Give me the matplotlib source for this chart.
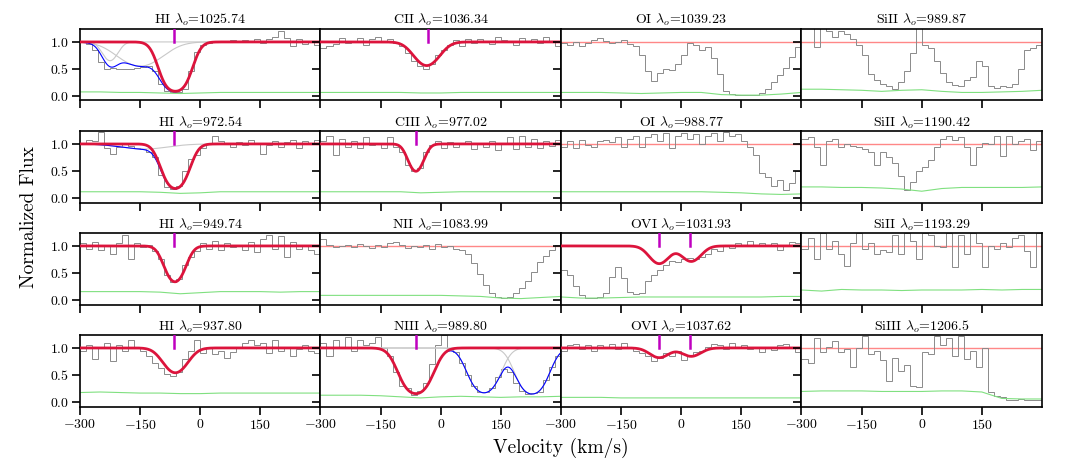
import numpy as np
import matplotlib.pyplot as plt

plt.rcParams['font.family'] = 'serif'
plt.rcParams['font.serif'] = ['cmr10']
plt.rcParams['mathtext.fontset'] = 'cm'
plt.rcParams['axes.formatter.use_mathtext'] = True
plt.rcParams['axes.linewidth'] = 1.2

# ---- data ----
titles = [
    r"HI $\lambda_o$=1025.74", r"CII $\lambda_o$=1036.34", r"OI $\lambda_o$=1039.23", r"SiII $\lambda_o$=989.87",
    r"HI $\lambda_o$=972.54", r"CIII $\lambda_o$=977.02", r"OI $\lambda_o$=988.77", r"SiII $\lambda_o$=1190.42",
    r"HI $\lambda_o$=949.74", r"NII $\lambda_o$=1083.99", r"OVI $\lambda_o$=1031.93", r"SiII $\lambda_o$=1193.29",
    r"HI $\lambda_o$=937.80", r"NIII $\lambda_o$=989.80", r"OVI $\lambda_o$=1037.62", r"SiIII $\lambda_o$=1206.5",
]

# flux in 15 km/s bins, -300 .. 300
flux_hi1025 = [1.02, 0.97, 0.85, 0.62, 0.50, 0.52, 0.50, 0.50, 0.49, 0.51, 0.54, 0.55, 0.45, 0.22, 0.08, 0.06, 0.07, 0.12, 0.45, 0.82,
               0.95, 0.98, 1.02, 0.99, 1.01, 1.03, 0.99, 1.04, 1.02, 1.06, 0.98, 1.05, 1.10, 1.20, 1.08, 0.92, 1.05, 0.96, 1.02, 0.95]
flux_cii1036 = [0.88, 0.92, 0.97, 1.07, 0.98, 1.02, 1.08, 0.95, 1.05, 1.10, 1.00, 1.05, 0.98, 0.92, 0.80, 0.65, 0.55, 0.50, 0.58, 0.75,
                0.85, 0.95, 1.03, 0.93, 1.05, 0.98, 1.05, 1.02, 0.97, 1.10, 1.03, 1.00, 0.95, 1.08, 1.02, 1.05, 0.98, 1.10, 1.00, 0.93]
flux_oi1039 = [0.98, 0.95, 1.00, 0.93, 0.98, 1.03, 1.07, 1.02, 0.98, 1.00, 1.04, 0.97, 0.92, 0.75, 0.45, 0.28, 0.42, 0.50, 0.48, 0.58,
               0.75, 0.98, 0.95, 0.85, 0.90, 0.70, 0.40, 0.08, 0.03, 0.02, 0.02, 0.01, 0.02, 0.05, 0.12, 0.25, 0.38, 0.52, 0.72, 0.90]
flux_sii989 = [1.30, 1.30, 0.90, 1.30, 1.20, 1.10, 1.20, 1.15, 1.05, 0.95, 0.75, 0.40, 0.30, 0.22, 0.18, 0.12, 0.25, 0.45, 0.80, 1.30,
               0.95, 0.88, 0.65, 0.42, 0.25, 0.20, 0.18, 0.30, 0.35, 0.65, 0.55, 0.18, 0.15, 0.18, 0.16, 0.22, 0.50, 0.85, 0.88, 0.95]
flux_hi972 = [1.02, 1.08, 1.05, 1.22, 0.92, 0.82, 0.95, 1.02, 0.97, 0.93, 0.90, 0.85, 0.75, 0.42, 0.20, 0.16, 0.22, 0.50, 0.72, 0.80,
              0.93, 1.00, 1.15, 1.05, 1.00, 0.95, 1.03, 0.98, 1.07, 1.00, 0.82, 0.98, 1.05, 0.95, 1.03, 1.08, 0.92, 1.05, 1.00, 1.08]
flux_ciii977 = [1.05, 1.15, 0.80, 1.10, 0.95, 1.05, 0.92, 1.12, 0.98, 1.00, 0.93, 1.12, 0.95, 0.85, 0.60, 0.50, 0.55, 0.85, 0.98, 1.05,
                0.92, 1.03, 0.95, 1.00, 1.05, 0.90, 1.02, 0.95, 1.05, 0.88, 1.00, 1.12, 0.90, 1.15, 0.95, 1.10, 0.92, 1.05, 0.97, 1.08]
flux_oi988 = [0.95, 1.05, 0.92, 1.08, 0.98, 0.95, 1.05, 1.08, 1.03, 1.12, 0.95, 1.10, 1.15, 0.95, 1.12, 1.18, 1.05, 1.20, 0.92, 1.15,
              1.20, 1.10, 1.18, 1.00, 1.15, 1.20, 1.05, 1.22, 1.15, 1.18, 1.05, 0.95, 0.80, 0.45, 0.38, 0.22, 0.32, 0.15, 0.28, 0.50]
flux_sii1190 = [1.10, 1.12, 0.95, 0.60, 1.05, 1.10, 0.95, 1.00, 0.97, 0.95, 0.90, 0.85, 0.60, 0.85, 0.75, 0.65, 0.40, 0.15, 0.30, 0.50,
                0.58, 0.70, 0.95, 1.10, 1.15, 1.08, 1.12, 0.95, 0.60, 0.95, 1.02, 1.00, 1.15, 0.78, 1.15, 1.00, 1.05, 1.10, 0.88, 1.05]
flux_hi949 = [1.05, 0.95, 1.08, 0.92, 1.00, 0.85, 1.05, 1.20, 0.75, 1.05, 0.98, 1.02, 0.90, 0.75, 0.45, 0.33, 0.38, 0.65, 0.80, 0.90,
              1.05, 0.95, 1.10, 0.92, 1.05, 0.98, 1.00, 0.92, 1.08, 0.88, 1.12, 1.20, 0.95, 1.18, 0.80, 1.08, 0.95, 1.00, 0.93, 0.85]
flux_nii1083 = [1.12, 1.02, 0.98, 1.00, 1.02, 0.98, 1.03, 1.00, 0.97, 1.02, 0.98, 1.05, 1.08, 1.02, 0.97, 1.00, 0.98, 1.02, 0.95, 1.03,
                0.98, 1.00, 0.95, 0.93, 0.85, 0.68, 0.48, 0.28, 0.12, 0.05, 0.04, 0.05, 0.12, 0.22, 0.35, 0.52, 0.70, 0.82, 0.92, 1.02]
flux_ovi1031 = [0.55, 0.45, 0.25, 0.08, 0.03, 0.04, 0.05, 0.12, 0.42, 0.60, 0.40, 0.15, 0.10, 0.12, 0.35, 0.45, 0.55, 0.65, 0.72, 0.70,
                0.76, 0.78, 0.75, 0.80, 0.85, 0.95, 0.90, 1.00, 0.97, 1.05, 1.02, 1.10, 1.00, 1.05, 1.02, 1.05, 0.93, 1.00, 1.08, 1.05]
flux_sii1193 = [0.95, 1.15, 0.75, 1.25, 0.95, 1.10, 0.85, 0.62, 1.05, 1.25, 0.95, 1.05, 0.85, 0.92, 0.88, 1.20, 0.85, 1.25, 1.10, 0.75,
                1.25, 1.20, 1.00, 0.98, 1.25, 0.60, 1.20, 0.85, 1.25, 1.05, 0.60, 1.00, 0.95, 1.05, 0.98, 1.15, 1.20, 0.90, 0.60, 1.25]
flux_hi937 = [0.95, 1.05, 0.80, 1.00, 1.10, 0.75, 1.05, 0.95, 1.15, 1.00, 0.95, 0.85, 0.72, 0.62, 0.52, 0.48, 0.55, 0.80, 0.95, 1.15,
              0.90, 1.00, 0.88, 0.95, 0.82, 0.92, 1.00, 1.10, 1.15, 1.05, 1.10, 0.90, 1.15, 0.95, 1.02, 0.85, 0.98, 1.05, 0.95, 0.90]
flux_niii989 = [1.10, 0.85, 1.15, 1.00, 1.20, 0.95, 1.15, 1.05, 1.10, 1.20, 1.00, 0.85, 0.55, 0.30, 0.25, 0.12, 0.20, 0.35, 0.70, 1.05,
                1.25, 1.00, 0.92, 0.72, 0.50, 0.30, 0.18, 0.18, 0.25, 0.45, 0.60, 0.55, 0.35, 0.20, 0.14, 0.16, 0.18, 0.40, 0.65, 0.85]
flux_ovi1037 = [0.95, 1.05, 1.08, 0.98, 1.05, 0.95, 1.05, 1.00, 1.08, 0.98, 1.10, 1.00, 0.95, 0.90, 0.85, 0.75, 0.82, 0.90, 0.85, 0.95,
                0.78, 0.85, 0.92, 0.95, 1.02, 1.08, 1.05, 0.98, 1.10, 1.02, 1.05, 0.98, 1.00, 0.93, 1.02, 0.97, 1.05, 1.08, 1.00, 0.92]
flux_siiii1206 = [0.80, 0.72, 1.18, 0.92, 1.02, 1.12, 0.92, 0.98, 0.65, 1.00, 1.22, 0.88, 0.95, 0.78, 0.38, 0.82, 0.58, 0.68, 0.30, 0.28,
                  0.92, 0.88, 1.22, 1.05, 1.18, 0.85, 1.22, 0.80, 0.95, 0.65, 1.00, 0.18, 0.10, 0.08, 0.04, 0.03, 0.05, 0.03, 0.04, 0.04]

# error spectrum sampled every 50 km/s, -300 .. 300
err_vel = [-300, -250, -200, -150, -100, -50, 0, 50, 100, 150, 200, 250, 300]
err_hi1025 = [0.07, 0.07, 0.06, 0.06, 0.05, 0.04, 0.05, 0.06, 0.06, 0.06, 0.06, 0.06, 0.06]
err_cii1036 = [0.06, 0.06, 0.06, 0.06, 0.06, 0.05, 0.05, 0.06, 0.06, 0.06, 0.06, 0.06, 0.06]
err_oi1039 = [0.06, 0.06, 0.06, 0.05, 0.04, 0.05, 0.06, 0.06, 0.02, 0.01, 0.01, 0.03, 0.06]
err_sii989 = [0.12, 0.12, 0.11, 0.10, 0.08, 0.10, 0.11, 0.08, 0.06, 0.06, 0.07, 0.08, 0.10]
err_hi972 = [0.11, 0.11, 0.11, 0.11, 0.10, 0.08, 0.09, 0.11, 0.11, 0.11, 0.11, 0.11, 0.11]
err_ciii977 = [0.11, 0.11, 0.11, 0.11, 0.11, 0.09, 0.10, 0.11, 0.11, 0.11, 0.11, 0.11, 0.11]
err_oi988 = [0.11, 0.11, 0.11, 0.11, 0.11, 0.11, 0.11, 0.11, 0.10, 0.09, 0.07, 0.06, 0.07]
err_sii1190 = [0.20, 0.20, 0.19, 0.19, 0.18, 0.16, 0.12, 0.17, 0.19, 0.19, 0.19, 0.19, 0.20]
err_hi949 = [0.15, 0.15, 0.15, 0.15, 0.14, 0.11, 0.13, 0.15, 0.15, 0.15, 0.14, 0.15, 0.15]
err_nii1083 = [0.08, 0.08, 0.08, 0.08, 0.08, 0.08, 0.08, 0.07, 0.06, 0.03, 0.02, 0.04, 0.06]
err_ovi1031 = [0.05, 0.03, 0.03, 0.04, 0.05, 0.05, 0.05, 0.05, 0.05, 0.05, 0.05, 0.06, 0.06]
err_sii1193 = [0.18, 0.16, 0.19, 0.18, 0.18, 0.17, 0.18, 0.18, 0.18, 0.19, 0.18, 0.19, 0.19]
err_hi937 = [0.17, 0.18, 0.17, 0.16, 0.16, 0.15, 0.15, 0.16, 0.16, 0.16, 0.16, 0.16, 0.16]
err_niii989 = [0.12, 0.12, 0.12, 0.11, 0.09, 0.07, 0.09, 0.10, 0.09, 0.08, 0.09, 0.09, 0.10]
err_ovi1037 = [0.08, 0.08, 0.08, 0.07, 0.07, 0.07, 0.07, 0.07, 0.07, 0.07, 0.07, 0.07, 0.07]
err_siiii1206 = [0.19, 0.20, 0.20, 0.20, 0.19, 0.19, 0.19, 0.20, 0.20, 0.18, 0.06, 0.05, 0.05]

# fitted components (velocity km/s, b km/s, central optical depth)
fit_hi1025 = [(-62, 37, 2.5)]
other_hi1025 = [(-225, 25, 0.43), (-150, 70, 0.6)]
fit_cii1036 = [(-35, 40, 0.58)]
fit_hi972 = [(-62, 35, 1.77)]
other_hi972 = [(-140, 80, 0.1)]
fit_ciii977 = [(-62, 24, 0.71)]
fit_hi949 = [(-63, 30, 1.1)]
fit_ovi1031 = [(-55, 32, 0.40), (25, 32, 0.34)]
fit_hi937 = [(-62, 38, 0.62)]
fit_niii989 = [(-62, 42, 1.9)]
other_niii989 = [(108, 41, 1.8), (228, 41, 1.95)]
fit_ovi1037 = [(-55, 32, 0.20), (25, 32, 0.17)]

marks_one = [-65]
marks_two = [-56, 22]

panels = [
    (flux_hi1025, err_hi1025, fit_hi1025, other_hi1025, marks_one),
    (flux_cii1036, err_cii1036, fit_cii1036, [], [-33]),
    (flux_oi1039, err_oi1039, None, [], []),
    (flux_sii989, err_sii989, None, [], []),
    (flux_hi972, err_hi972, fit_hi972, other_hi972, marks_one),
    (flux_ciii977, err_ciii977, fit_ciii977, [], [-62]),
    (flux_oi988, err_oi988, None, [], []),
    (flux_sii1190, err_sii1190, None, [], []),
    (flux_hi949, err_hi949, fit_hi949, [], marks_one),
    (flux_nii1083, err_nii1083, None, [], []),
    (flux_ovi1031, err_ovi1031, fit_ovi1031, [], marks_two),
    (flux_sii1193, err_sii1193, None, [], []),
    (flux_hi937, err_hi937, fit_hi937, [], marks_one),
    (flux_niii989, err_niii989, fit_niii989, other_niii989, [-62]),
    (flux_ovi1037, err_ovi1037, fit_ovi1037, [], marks_two),
    (flux_siiii1206, err_siiii1206, None, [], []),
]

edges = np.arange(-300, 301, 15)
vgrid = np.linspace(-300, 300, 601)


def profile(comps):
    tau = np.zeros_like(vgrid)
    for v0, b, t0 in comps:
        tau += t0 * np.exp(-((vgrid - v0) / b) ** 2)
    return np.exp(-tau)


fig = plt.figure(figsize=(10.65, 4.75), dpi=100)
gs = fig.add_gridspec(4, 4, left=0.0751, right=0.9784, bottom=0.1442, top=0.94,
                      wspace=0, hspace=0.4167)

for i, (flux, err, fit, other, marks) in enumerate(panels):
    r, c = divmod(i, 4)
    ax = fig.add_subplot(gs[r, c])

    ax.stairs(flux, edges, baseline=None, color='#8a8a8a', lw=0.7, zorder=2)
    ax.plot(err_vel, err, color='#80e080', lw=0.8, zorder=2)

    if fit is None:
        ax.axhline(1.0, color='#ff5555', lw=1.0, alpha=0.7, zorder=1)
    else:
        if other:
            for comp in fit + other:
                ax.plot(vgrid, profile([comp]), color='#c8c8c8', lw=0.8, zorder=3)
            ax.plot(vgrid, profile(fit + other), color='blue', lw=0.8, zorder=4)
        ax.plot(vgrid, profile(fit), color='crimson', lw=2.0, zorder=5)
        for m in marks:
            ax.plot([m, m], [1.0, 1.24], color='m', lw=1.8, zorder=6)

    ax.set_xlim(-300, 300)
    ax.set_ylim(-0.09, 1.25)
    ax.set_xticks([-300, -150, 0, 150])
    ax.set_yticks([0.0, 0.5, 1.0])
    ax.tick_params(direction='out', length=6, width=1.2, labelsize=10, pad=2)
    if c != 0:
        ax.set_yticklabels([])
    if r != 3:
        ax.set_xticklabels([])
    ax.set_title(titles[i], fontsize=10, pad=3)

fig.text(0.027, 0.542, "Normalized Flux", rotation=90, ha='center', va='center', fontsize=14)
fig.text(0.527, 0.058, "Velocity (km/s)", ha='center', va='center', fontsize=14)

fig.savefig("out.png", dpi=100)
